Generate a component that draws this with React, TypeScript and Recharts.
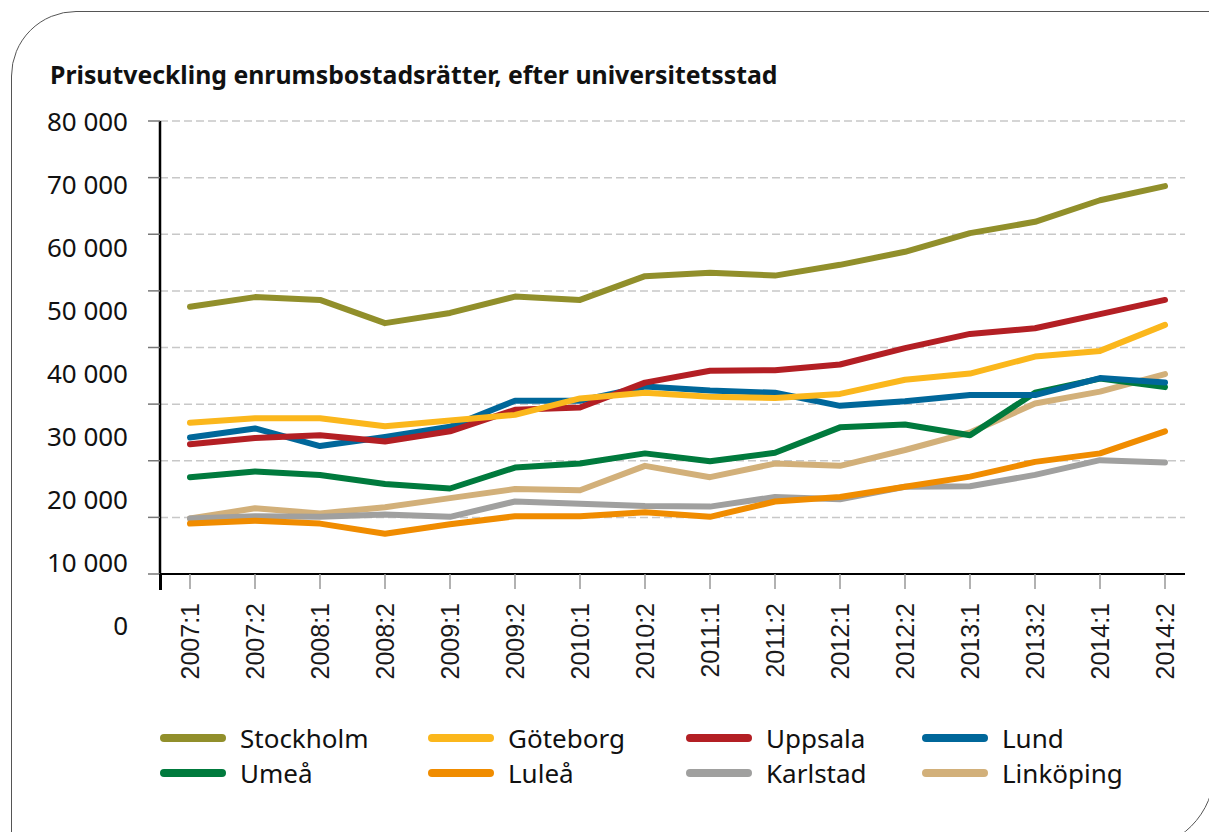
import { LineChart, Line, XAxis, YAxis, CartesianGrid } from "recharts";

const periods = [
  "2007:1", "2007:2", "2008:1", "2008:2", "2009:1", "2009:2", "2010:1", "2010:2",
  "2011:1", "2011:2", "2012:1", "2012:2", "2013:1", "2013:2", "2014:1", "2014:2",
];

const stockholm = [47200, 48900, 48400, 44300, 46100, 49000, 48400, 52600, 53200, 52700, 54600, 56900, 60200, 62200, 66000, 68500];
const goteborg = [26700, 27500, 27500, 26100, 27100, 28100, 31000, 32000, 31300, 31100, 31800, 34300, 35400, 38400, 39400, 44000];
const uppsala = [22900, 24000, 24500, 23400, 25200, 29000, 29400, 33800, 35900, 36000, 37000, 39900, 42400, 43400, 45900, 48400];
const lund = [24100, 25700, 22600, 24200, 26000, 30600, 30600, 33100, 32400, 32000, 29700, 30500, 31600, 31600, 34600, 33800];
const umea = [17100, 18100, 17500, 15900, 15100, 18800, 19500, 21300, 19900, 21400, 25900, 26400, 24500, 32000, 34500, 33000];
const lulea = [8900, 9400, 8900, 7100, 8800, 10200, 10200, 10900, 10100, 12800, 13600, 15400, 17200, 19800, 21300, 25200];
const karlstad = [9800, 10200, 10100, 10500, 10100, 12800, 12400, 12000, 11900, 13600, 13200, 15400, 15500, 17500, 20100, 19700];
const linkoping = [9800, 11600, 10700, 11800, 13400, 15000, 14800, 19100, 17100, 19500, 19100, 21900, 25000, 30100, 32200, 35300];

const yTicks = [0, 10000, 20000, 30000, 40000, 50000, 60000, 70000, 80000];

const series = [
  { key: "stockholm", name: "Stockholm", color: "#918f2b", values: stockholm },
  { key: "goteborg", name: "Göteborg", color: "#fbb71c", values: goteborg },
  { key: "uppsala", name: "Uppsala", color: "#b31f24", values: uppsala },
  { key: "lund", name: "Lund", color: "#00679a", values: lund },
  { key: "umea", name: "Umeå", color: "#007a3d", values: umea },
  { key: "lulea", name: "Luleå", color: "#f08c00", values: lulea },
  { key: "karlstad", name: "Karlstad", color: "#a0a09f", values: karlstad },
  { key: "linkoping", name: "Linköping", color: "#d2b07a", values: linkoping },
];

const data = periods.map((period, i) => {
  const row: Record<string, string | number> = { period };
  series.forEach((s) => (row[s.key] = s.values[i]));
  return row;
});

const fmt = (v: number) => (v === 0 ? "0" : `${v / 1000} 000`);

// the original's labels drift downward relative to their gridlines
function YTick({ x, y, payload }: any) {
  const shift = ((80000 - payload.value) / 10000) * 6.4;
  return (
    <text x={x - 18} y={y + shift} textAnchor="end" dominantBaseline="central"
      fontFamily="Noto Sans" fontSize={26} fill="#111">
      {fmt(payload.value)}
    </text>
  );
}

function XTick({ x, y, payload }: any) {
  return (
    <text x={x} y={y + 12} transform={`rotate(-90, ${x}, ${y + 12})`} textAnchor="end"
      dominantBaseline="central" fontFamily="Liberation Sans, Arial" fontSize={25} fill="#1a1a1a">
      {payload.value}
    </text>
  );
}

const legendCols = [160, 428, 686, 922];

export default function App() {
  return (
    <div style={{ position: "absolute", left: 0, top: 0, width: 1209, height: 832, overflow: "hidden", background: "#fff" }}>
      <div style={{
        position: "absolute", left: 11, top: 11, width: 1204, height: 839, boxSizing: "border-box",
        border: "1.5px solid #555", borderTopLeftRadius: 65, borderBottomRightRadius: 80,
      }} />
      <div style={{
        position: "absolute", left: 50, top: 57, fontFamily: "Noto Sans", fontWeight: 700,
        fontSize: 24.8, color: "#111", whiteSpace: "nowrap",
      }}>
        Prisutveckling enrumsbostadsrätter, efter universitetsstad
      </div>
      <div style={{ position: "absolute", left: 0, top: 0 }}>
        <LineChart width={1209} height={832} data={data} margin={{ top: 121, right: 24, bottom: 148, left: 0 }}>
          <CartesianGrid vertical={false} stroke="#c8c8c8" strokeWidth={1.5} strokeDasharray="8 4" />
          <XAxis dataKey="period" interval={0} height={110} padding={{ left: 30, right: 20 }}
            axisLine={{ stroke: "#000", strokeWidth: 2 }} tickLine={{ stroke: "#999", strokeWidth: 1.5 }}
            tickSize={15} tick={<XTick />} />
          <YAxis domain={[0, 80000]} ticks={yTicks} width={160} interval={0}
            axisLine={{ stroke: "#000", strokeWidth: 2.5 }} tickLine={{ stroke: "#777", strokeWidth: 1.5 }}
            tickSize={12} tick={<YTick />} />
          {[...series].reverse().map((s) => (
            <Line key={s.key} type="linear" dataKey={s.key} name={s.name} stroke={s.color} strokeWidth={6}
              strokeLinecap="round" strokeLinejoin="round" dot={false} activeDot={false} isAnimationActive={false} />
          ))}
        </LineChart>
      </div>
      <div style={{ position: "absolute", left: 159, top: 574, width: 2.5, height: 16, background: "#000" }} />
      {series.map((s, i) => {
        const col = i % 4;
        const row = Math.floor(i / 4);
        return (
          <div key={s.key} style={{
            position: "absolute", left: legendCols[col], top: 738 + row * 35 - 18, height: 36,
            display: "flex", alignItems: "center", fontFamily: "Noto Sans", fontSize: 26, color: "#111",
          }}>
            <span style={{ display: "inline-block", width: 66, height: 8, borderRadius: 4, background: s.color, marginRight: 14 }} />
            {s.name}
          </div>
        );
      })}
    </div>
  );
}
